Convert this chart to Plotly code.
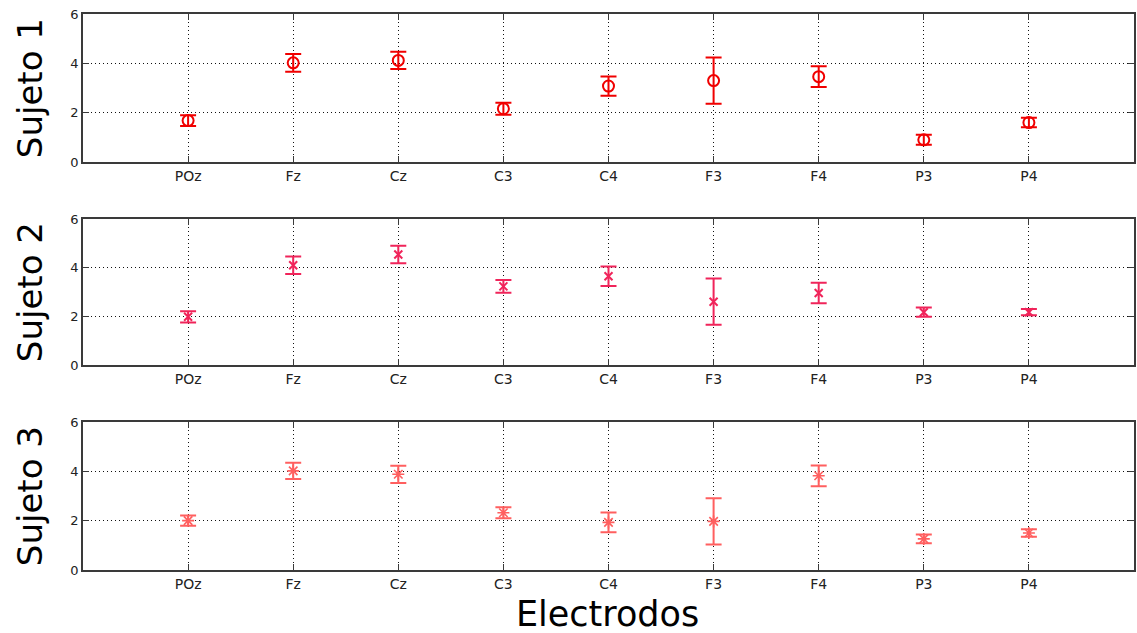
import plotly.graph_objects as go
from plotly.subplots import make_subplots

# Electrodes and per-subject mean values with their error half-widths
electrodos = ["POz", "Fz", "Cz", "C3", "C4", "F3", "F4", "P3", "P4"]

sujeto1_media = [1.68, 4.02, 4.12, 2.16, 3.08, 3.30, 3.46, 0.90, 1.60]
sujeto1_error = [0.22, 0.36, 0.35, 0.24, 0.39, 0.94, 0.42, 0.20, 0.19]

sujeto2_media = [1.98, 4.10, 4.54, 3.23, 3.65, 2.60, 2.96, 2.17, 2.17]
sujeto2_error = [0.23, 0.36, 0.36, 0.26, 0.40, 0.95, 0.42, 0.19, 0.13]

sujeto3_media = [2.00, 4.02, 3.88, 2.32, 1.93, 1.97, 3.82, 1.26, 1.50]
sujeto3_error = [0.21, 0.33, 0.35, 0.22, 0.40, 0.94, 0.42, 0.18, 0.15]

y_ticks = [0, 2, 4, 6]
titulos = ["Sujeto 1", "Sujeto 2", "Sujeto 3"]

posiciones = list(range(1, len(electrodos) + 1))

series = [
    (sujeto1_media, sujeto1_error, "#F00000", "circle-open", 11, 2.0),
    (sujeto2_media, sujeto2_error, "#F0245A", "x-thin-open", 8, 2.0),
    (sujeto3_media, sujeto3_error, "#FF5F5F", "asterisk-open", 10, 1.6),
]

fig = make_subplots(rows=3, cols=1)

for i, (media, err, color, simbolo, tam, lw) in enumerate(series, start=1):
    fig.add_trace(
        go.Scatter(
            x=posiciones,
            y=media,
            mode="markers",
            marker=dict(symbol=simbolo, size=tam, color=color,
                        line=dict(color=color, width=lw)),
            error_y=dict(type="data", array=err, visible=True,
                         color=color, thickness=2, width=8),
            showlegend=False,
            hoverinfo="skip",
        ),
        row=i, col=1,
    )

# Panel placement (paper fractions of the plotting area)
dominios = [(0.7338, 1.0), (0.3687, 0.6313), (0.0, 0.2662)]

eje_color = "#3a3a3a"
punteado = "1px,3px"

for i, dom in enumerate(dominios, start=1):
    fig.update_xaxes(
        range=[0, 10],
        tickvals=posiciones,
        ticktext=electrodos,
        showgrid=True,
        gridcolor="#111111",
        griddash=punteado,
        gridwidth=1,
        zeroline=False,
        showline=True,
        linecolor=eje_color,
        linewidth=1.5,
        mirror="ticks",
        ticks="inside",
        ticklen=6,
        tickwidth=1.2,
        tickcolor=eje_color,
        tickfont=dict(family="DejaVu Sans", size=14, color="#222222"),
        row=i, col=1,
    )
    fig.update_yaxes(
        domain=list(dom),
        range=[0, 6],
        tickvals=y_ticks,
        showgrid=True,
        gridcolor="#111111",
        griddash=punteado,
        gridwidth=1,
        zeroline=False,
        showline=True,
        linecolor=eje_color,
        linewidth=1.5,
        mirror="ticks",
        ticks="inside",
        ticklen=6,
        tickwidth=1.2,
        tickcolor=eje_color,
        tickfont=dict(family="DejaVu Sans", size=13, color="#222222"),
        row=i, col=1,
    )

# Rotated subject labels on the left of each panel
anotaciones = []
for titulo, dom in zip(titulos, dominios):
    anotaciones.append(dict(
        text=titulo, textangle=-90,
        xref="paper", yref="paper",
        x=-0.0503, y=(dom[0] + dom[1]) / 2,
        xanchor="center", yanchor="middle",
        showarrow=False,
        font=dict(family="DejaVu Sans", size=34, color="#000000"),
    ))

anotaciones.append(dict(
    text="Electrodos",
    xref="paper", yref="paper",
    x=0.4986, y=-0.0795,
    xanchor="center", yanchor="middle",
    showarrow=False,
    font=dict(family="DejaVu Sans", size=35, color="#000000"),
))

fig.update_layout(
    width=1137,
    height=633,
    margin=dict(l=83, r=1, t=14, b=63),
    paper_bgcolor="#FFFFFF",
    plot_bgcolor="#FFFFFF",
    annotations=anotaciones,
)

fig.write_html("out.html")
